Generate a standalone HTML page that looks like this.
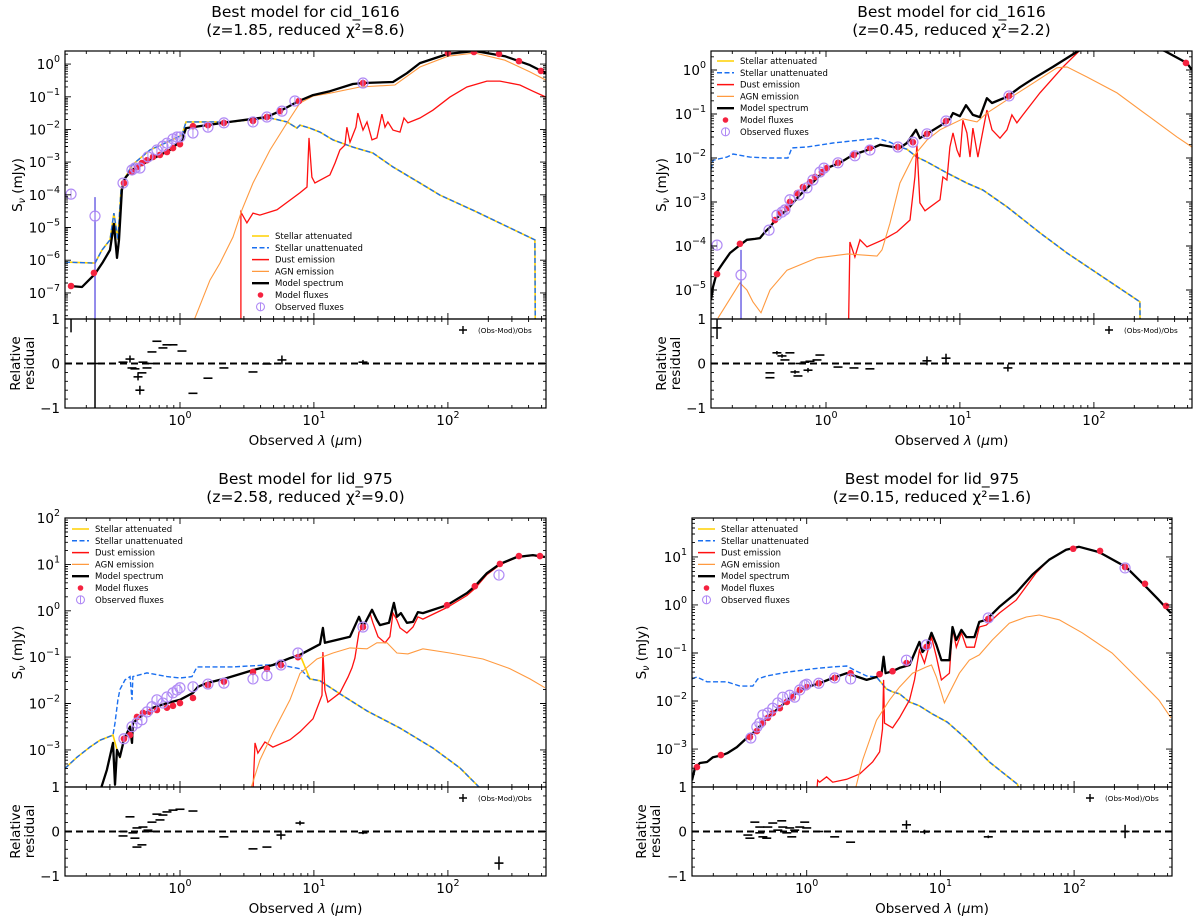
<!DOCTYPE html>
<html><head><meta charset="utf-8">
<style>
body{margin:0;background:#fff;}
svg{display:block;font-family:"DejaVu Sans","Liberation Sans",sans-serif;}
</style></head>
<body>
<svg id="fig" width="1200" height="922" viewBox="0 0 1200 922"></svg>
<script>
// ---------- DATA (log10 wavelength [um], log10 flux [mJy]) ----------
const xTickExps=[0,1,2];
const legendLabels=['Stellar attenuated','Stellar unattenuated','Dust emission','AGN emission','Model spectrum','Model fluxes','Observed fluxes'];

// Panel 1: cid_1616 z=1.85
const p1YExps=[0,-1,-2,-3,-4,-5,-6,-7];
const p1Model=[[-0.821,-6.79],[-0.731,-6.82],[-0.634,-6.42],[-0.575,-6.06],[-0.522,-5.69],[-0.493,-4.89],[-0.470,-5.93],[-0.455,-5.38],[-0.433,-3.85],[-0.410,-3.49],[-0.358,-3.24],[-0.224,-2.94],[-0.075,-2.63],[0.015,-2.32],[0.045,-1.96],[0.373,-1.77],[0.649,-1.62],[0.746,-1.44],[0.888,-1.13],[0.993,-0.95],[1.119,-0.83],[1.291,-0.61],[1.366,-0.58],[1.590,-0.55],[1.694,-0.28],[1.791,0.03],[2.0,0.31],[2.201,0.40],[2.425,0.24],[2.612,-0.03],[2.731,-0.28]];
const p1Stellar=[[-0.858,-6.06],[-0.634,-6.09],[-0.582,-5.69],[-0.522,-5.38],[-0.493,-4.56],[-0.463,-5.38],[-0.440,-3.85],[-0.410,-3.49],[-0.358,-3.09],[-0.224,-2.63],[-0.075,-2.35],[0.015,-2.17],[0.045,-1.77],[0.373,-1.77],[0.672,-1.65],[0.799,-1.77],[0.873,-1.96],[0.896,-1.87],[0.970,-1.96],[1.045,-2.08],[1.142,-2.32],[1.291,-2.54],[1.440,-2.72],[1.590,-3.15],[1.791,-3.64],[1.940,-4.01],[2.201,-4.50],[2.649,-5.38],[2.653,-9]];
const p1Dust=[[0.455,-9],[0.455,-4.53],[0.5,-4.86],[0.545,-4.56],[0.597,-4.62],[0.724,-4.46],[0.896,-3.94],[0.948,-3.76],[0.963,-2.26],[0.985,-3.46],[1.007,-3.64],[1.119,-3.39],[1.157,-3.03],[1.194,-2.63],[1.231,-2.48],[1.246,-1.93],[1.269,-2.39],[1.313,-1.93],[1.328,-1.50],[1.366,-2.02],[1.396,-1.77],[1.433,-2.32],[1.470,-2.26],[1.507,-1.53],[1.530,-1.93],[1.552,-1.77],[1.590,-2.02],[1.642,-2.08],[1.672,-1.65],[1.701,-1.80],[1.791,-1.65],[1.888,-1.41],[2.015,-1.01],[2.142,-0.70],[2.291,-0.52],[2.388,-0.52],[2.537,-0.64],[2.634,-0.83],[2.731,-1.01]];
const p1Agn=[[0.09,-8],[0.224,-6.61],[0.299,-6.09],[0.396,-5.29],[0.463,-4.46],[0.545,-3.64],[0.672,-2.63],[0.799,-1.80],[0.896,-1.19],[0.993,-0.98],[1.119,-0.89],[1.343,-0.70],[1.604,-0.64],[1.791,-0.09],[2.0,0.24],[2.201,0.34],[2.425,0.12],[2.612,-0.24],[2.731,-0.49]];
const p1Dots=[[-0.813,-6.79],[-0.642,-6.39],[-0.418,-3.64],[-0.358,-3.30],[-0.321,-3.15],[-0.284,-3.03],[-0.246,-2.94],[-0.201,-2.84],[-0.149,-2.78],[-0.097,-2.69],[-0.052,-2.57],[0,-2.45],[0.097,-1.90],[0.209,-1.87],[0.328,-1.80],[0.545,-1.74],[0.649,-1.62],[0.746,-1.44],[0.888,-1.13],[1.366,-0.58],[2.0,0.34],[2.194,0.37],[2.381,0.31],[2.530,0.09],[2.694,-0.21]];
const p1Obs=[[-0.813,-3.98],[-0.634,-4.65],[-0.425,-3.64],[-0.358,-3.24],[-0.336,-3.18],[-0.299,-3.18],[-0.239,-2.84],[-0.172,-2.63],[-0.127,-2.51],[-0.097,-2.42],[-0.052,-2.29],[-0.022,-2.23],[0,-2.23],[0.097,-2.11],[0.209,-1.93],[0.328,-1.80],[0.545,-1.77],[0.649,-1.62],[0.761,-1.44],[0.858,-1.13],[1.366,-0.58]];
const p1ObsErr=[[-0.634,-4.07,-9]];
const p1ResLam=[-0.425,-0.373,-0.358,-0.336,-0.313,-0.284,-0.246,-0.299,-0.209,-0.172,-0.127,-0.097,-0.052,0.015,-0.276,-0.201,0.209,0.097,0.328,0.545,0.649,0.761,1.366,-0.634,-0.813];
const p1ResVal=[0.03,0.10,-0.10,-0.12,-0.30,-0.21,-0.10,-0.60,0.26,0.50,0.35,0.42,0.42,0.28,0.03,0.0,-0.33,-0.67,-0.10,-0.19,-0.01,0.08,0.03,0.0,1.2];
const p1ResErr=[0,0.08,0,0,0.08,0,0,0.1,0,0,0,0,0,0,0,0,0,0,0,0,0,0.1,0.05,1.5,0.5];

// Panel 2: cid_1616 z=0.45
const p2YExps=[0,-1,-2,-3,-4,-5];
const p2Model=[[-0.858,-5.23],[-0.843,-4.93],[-0.813,-4.59],[-0.769,-4.39],[-0.716,-4.16],[-0.642,-3.98],[-0.590,-3.86],[-0.530,-3.84],[-0.493,-3.82],[-0.455,-3.68],[-0.418,-3.57],[-0.366,-3.36],[-0.291,-3.18],[-0.194,-2.84],[-0.097,-2.55],[0.007,-2.23],[0.104,-2.11],[0.201,-1.93],[0.328,-1.80],[0.403,-1.70],[0.5,-1.75],[0.552,-1.77],[0.604,-1.66],[0.672,-1.36],[0.701,-1.55],[0.754,-1.45],[0.851,-1.27],[0.925,-1.11],[0.948,-0.98],[1.0,-1.05],[1.045,-0.80],[1.097,-1.02],[1.149,-1.07],[1.201,-0.64],[1.239,-0.75],[1.351,-0.61],[1.448,-0.39],[1.545,-0.20],[1.694,0.07],[1.881,0.43],[2.194,0.8],[2.530,0.43],[2.694,0.16],[2.731,0.0]];
const p2Stellar=[[-0.858,-2.27],[-0.843,-2.05],[-0.739,-1.98],[-0.694,-1.91],[-0.567,-1.98],[-0.440,-2.0],[-0.284,-2.0],[-0.254,-1.77],[-0.142,-1.75],[0.052,-1.66],[0.381,-1.55],[0.478,-1.64],[0.552,-1.75],[0.604,-1.80],[0.679,-1.98],[0.754,-2.09],[0.903,-2.34],[1.052,-2.57],[1.172,-2.73],[1.351,-3.11],[1.597,-3.70],[1.799,-4.16],[2.343,-5.27],[2.351,-8]];
const p2Dust=[[0.157,-8],[0.179,-3.91],[0.216,-4.25],[0.254,-3.86],[0.306,-4.02],[0.425,-3.86],[0.530,-3.68],[0.627,-3.41],[0.664,-2.43],[0.679,-1.70],[0.701,-3.02],[0.739,-3.20],[0.851,-2.95],[0.873,-2.43],[0.903,-2.5],[0.925,-1.75],[0.948,-1.43],[0.978,-1.82],[1.0,-1.98],[1.022,-1.14],[1.052,-1.43],[1.075,-1.98],[1.097,-1.32],[1.134,-1.98],[1.201,-0.91],[1.239,-1.36],[1.299,-1.55],[1.351,-1.36],[1.388,-1.02],[1.425,-1.20],[1.470,-1.02],[1.597,-0.52],[1.769,0.07],[1.896,0.45],[2.04,1.1]];
const p2Agn=[[-0.806,-5.64],[-0.642,-4.84],[-0.590,-5.0],[-0.545,-5.27],[-0.485,-5.52],[-0.418,-5.0],[-0.291,-4.55],[-0.067,-4.27],[0.164,-4.18],[0.381,-4.23],[0.418,-4.09],[0.478,-3.48],[0.552,-2.57],[0.649,-1.98],[0.754,-1.59],[0.851,-1.36],[1.022,-1.11],[1.127,-1.18],[1.201,-0.98],[1.351,-0.68],[1.5,-0.39],[1.724,0.05],[1.799,0.07],[1.948,-0.16],[2.172,-0.52],[2.418,-1.07],[2.619,-1.52],[2.731,-1.75]];
const p2Dots=[[-0.813,-4.64],[-0.642,-3.95],[-0.381,-3.41],[-0.343,-3.25],[-0.291,-3.14],[-0.269,-3.0],[-0.216,-2.80],[-0.172,-2.66],[-0.119,-2.55],[-0.082,-2.43],[-0.030,-2.32],[0.007,-2.23],[0.090,-2.11],[0.209,-1.93],[0.328,-1.77],[0.537,-1.75],[0.649,-1.64],[0.754,-1.45],[0.896,-1.16],[1.366,-0.59],[2.687,0.16]];
const p2Obs=[[-0.813,-3.98],[-0.634,-4.66],[-0.425,-3.64],[-0.366,-3.30],[-0.328,-3.23],[-0.306,-3.18],[-0.269,-2.95],[-0.201,-2.84],[-0.142,-2.68],[-0.097,-2.5],[-0.045,-2.32],[-0.015,-2.23],[0.090,-2.11],[0.216,-1.95],[0.328,-1.82],[0.537,-1.75],[0.649,-1.64],[0.754,-1.45],[0.896,-1.16],[1.366,-0.59]];
const p2ObsErr=[[-0.634,-4.09,-9]];
const p2ResLam=[-0.813,-0.418,-0.418,-0.366,-0.328,-0.306,-0.269,-0.231,-0.209,-0.194,-0.157,-0.134,-0.119,-0.045,-0.067,0.090,0.209,0.328,0.754,0.896,1.358];
const p2ResVal=[0.8,-0.21,-0.32,0.24,0.17,0.08,0.24,-0.19,-0.28,0.0,0.03,-0.15,0.05,0.19,0.08,-0.08,-0.10,-0.12,0.06,0.12,-0.10];
const p2ResErr=[0.25,0,0,0.04,0.04,0,0,0.04,0,0,0,0.05,0,0,0,0,0,0,0.1,0.1,0.08];

// Panel 3: lid_975 z=2.58
const p3YExps=[2,1,0,-1,-2,-3];
const p3Model=[[-0.597,-3.9],[-0.545,-3.43],[-0.5,-2.85],[-0.485,-3.75],[-0.470,-3.0],[-0.448,-3.15],[-0.418,-2.78],[-0.373,-2.50],[-0.358,-2.85],[-0.351,-2.42],[-0.299,-2.29],[-0.201,-2.09],[-0.097,-1.99],[0,-1.92],[0.097,-1.77],[0.134,-1.64],[0.201,-1.56],[0.351,-1.45],[0.545,-1.28],[0.694,-1.17],[0.821,-1.02],[0.896,-0.95],[1.045,-0.72],[1.067,-0.37],[1.082,-0.69],[1.269,-0.56],[1.336,-0.13],[1.366,-0.35],[1.433,0.02],[1.470,-0.20],[1.493,-0.31],[1.560,-0.26],[1.597,0.17],[1.619,-0.13],[1.649,-0.05],[1.694,-0.26],[1.739,-0.24],[1.776,-0.03],[1.813,-0.05],[1.993,0.12],[2.142,0.38],[2.201,0.53],[2.291,0.81],[2.388,1.01],[2.515,1.16],[2.634,1.20],[2.724,1.16]];
const p3Stellar=[[-0.858,-3.40],[-0.769,-3.16],[-0.672,-2.94],[-0.597,-2.79],[-0.5,-2.68],[-0.485,-2.42],[-0.463,-1.92],[-0.448,-1.70],[-0.410,-1.49],[-0.373,-1.42],[-0.358,-1.92],[-0.351,-1.42],[-0.246,-1.34],[-0.097,-1.42],[0,-1.45],[0.090,-1.42],[0.127,-1.21],[0.201,-1.21],[0.396,-1.21],[0.649,-1.17],[0.746,-1.17],[0.896,-1.25],[0.970,-1.47],[1.045,-1.51],[1.194,-1.79],[1.396,-2.16],[1.642,-2.53],[1.888,-2.96],[2.090,-3.39],[2.239,-3.82]];
const p3Dust=[[0.545,-3.9],[0.560,-2.85],[0.582,-3.07],[0.634,-2.83],[0.694,-2.94],[0.821,-2.78],[0.896,-2.61],[0.993,-2.33],[1.060,-1.82],[1.067,-0.89],[1.082,-1.71],[1.104,-1.97],[1.194,-1.77],[1.254,-1.43],[1.284,-1.23],[1.306,-1.02],[1.336,-0.46],[1.366,-0.35],[1.418,-0.05],[1.440,-0.26],[1.478,-0.56],[1.530,-0.69],[1.567,-0.56],[1.590,-0.05],[1.619,-0.20],[1.642,-0.37],[1.694,-0.48],[1.739,-0.35],[1.776,-0.13],[1.813,-0.18],[1.993,0.07],[2.142,0.33],[2.201,0.48],[2.291,0.78],[2.388,0.99],[2.515,1.15],[2.634,1.19],[2.724,1.15]];
const p3Agn=[[0.522,-3.9],[0.597,-3.22],[0.694,-2.63],[0.821,-1.92],[0.896,-1.35],[1.022,-1.04],[1.142,-0.91],[1.269,-0.80],[1.396,-0.82],[1.470,-0.69],[1.545,-0.69],[1.619,-0.91],[1.701,-0.93],[1.813,-0.82],[2.015,-0.91],[2.261,-1.04],[2.463,-1.25],[2.612,-1.47],[2.724,-1.66]];
const p3Dots=[[-0.418,-2.76],[-0.373,-2.68],[-0.321,-2.29],[-0.276,-2.20],[-0.224,-2.18],[-0.172,-2.14],[-0.097,-2.09],[-0.052,-2.05],[0,-1.99],[0.097,-1.88],[0.209,-1.60],[0.328,-1.53],[0.545,-1.32],[0.649,-1.25],[0.754,-1.17],[0.881,-1.0],[1.366,-0.35],[1.993,0.12],[2.201,0.53],[2.388,1.01],[2.530,1.18],[2.687,1.18]];
const p3Obs=[[-0.418,-2.76],[-0.358,-2.50],[-0.321,-2.42],[-0.284,-2.35],[-0.246,-2.18],[-0.209,-2.07],[-0.172,-1.92],[-0.127,-1.99],[-0.097,-1.86],[-0.052,-1.77],[-0.022,-1.71],[0,-1.66],[0.097,-1.64],[0.209,-1.58],[0.328,-1.56],[0.545,-1.47],[0.649,-1.40],[0.754,-1.17],[0.881,-0.91],[1.366,-0.35],[2.381,0.77]];
const p3ObsErr=[];
const p3ResLam=[-0.373,-0.425,-0.425,-0.351,-0.336,-0.321,-0.321,-0.284,-0.276,-0.239,-0.209,-0.172,-0.149,-0.127,-0.097,-0.052,0,0.097,-0.201,0.328,0.545,0.649,0.754,0.896,1.366,2.381];
const p3ResVal=[0.33,0.0,-0.10,-0.03,-0.15,0.08,-0.35,-0.30,0.10,0.03,0.21,0.39,0.26,0.37,0.44,0.48,0.50,0.46,0.0,-0.12,-0.39,-0.35,-0.08,0.19,-0.03,-0.71];
const p3ResErr=[0,0,0,0,0,0,0,0,0,0,0,0,0,0,0,0,0,0,0,0,0,0,0.1,0.05,0.03,0.15];

// Panel 4: lid_975 z=0.15
const p4YExps=[1,0,-1,-2,-3];
const p4Model=[[-0.858,-3.65],[-0.836,-3.40],[-0.799,-3.29],[-0.746,-3.27],[-0.701,-3.17],[-0.634,-3.13],[-0.590,-3.08],[-0.522,-2.96],[-0.448,-2.77],[-0.373,-2.60],[-0.299,-2.35],[-0.201,-2.13],[-0.104,-1.88],[0,-1.71],[0.097,-1.63],[0.194,-1.52],[0.299,-1.42],[0.343,-1.46],[0.448,-1.56],[0.522,-1.50],[0.560,-1.42],[0.575,-1.08],[0.590,-1.42],[0.642,-1.38],[0.694,-1.31],[0.769,-1.25],[0.843,-0.77],[0.866,-0.98],[0.896,-0.88],[0.933,-0.58],[0.970,-0.83],[1.007,-1.15],[1.067,-1.15],[1.090,-0.46],[1.119,-0.73],[1.157,-0.52],[1.194,-0.67],[1.254,-0.67],[1.291,-0.35],[1.343,-0.31],[1.440,-0.04],[1.567,0.25],[1.687,0.63],[1.813,0.94],[1.940,1.15],[2.037,1.21],[2.187,1.10],[2.388,0.79],[2.537,0.38],[2.634,0.10],[2.724,-0.17]];
const p4Stellar=[[-0.858,-1.54],[-0.821,-1.50],[-0.746,-1.60],[-0.597,-1.60],[-0.5,-1.69],[-0.403,-1.69],[-0.366,-1.54],[-0.299,-1.48],[-0.149,-1.40],[0.045,-1.33],[0.194,-1.29],[0.299,-1.27],[0.373,-1.38],[0.448,-1.48],[0.522,-1.50],[0.597,-1.75],[0.642,-1.81],[0.694,-1.85],[0.769,-2.02],[0.843,-2.10],[0.940,-2.27],[1.052,-2.44],[1.194,-2.79],[1.366,-3.27],[1.575,-3.73],[1.6,-3.9]];
const p4Dust=[[0.075,-3.9],[0.082,-3.65],[0.097,-3.69],[0.149,-3.58],[0.194,-3.69],[0.299,-3.63],[0.396,-3.52],[0.493,-3.27],[0.545,-3.06],[0.567,-2.58],[0.575,-1.56],[0.582,-2.46],[0.642,-2.56],[0.694,-2.35],[0.769,-1.98],[0.806,-1.56],[0.843,-0.94],[0.881,-1.21],[0.933,-0.67],[0.970,-1.08],[1.007,-1.56],[1.067,-1.42],[1.090,-0.48],[1.119,-0.88],[1.157,-0.58],[1.194,-0.88],[1.254,-0.88],[1.291,-0.46],[1.343,-0.42],[1.440,-0.17],[1.567,0.10],[1.716,0.67],[1.813,0.94],[1.940,1.15],[2.037,1.21],[2.187,1.10],[2.388,0.79],[2.537,0.38],[2.634,0.10],[2.724,-0.17]];
const p4Agn=[[0.358,-3.9],[0.418,-3.23],[0.522,-2.40],[0.619,-1.98],[0.694,-1.71],[0.791,-1.42],[0.896,-1.29],[0.933,-1.25],[0.970,-1.50],[1.007,-1.83],[1.030,-2.04],[1.067,-1.83],[1.142,-1.42],[1.216,-1.15],[1.291,-1.04],[1.388,-0.73],[1.515,-0.38],[1.642,-0.25],[1.739,-0.21],[1.888,-0.31],[2.060,-0.58],[2.284,-1.0],[2.485,-1.56],[2.634,-1.98],[2.724,-2.35]];
const p4Dots=[[-0.821,-3.375],[-0.642,-3.125],[-0.425,-2.75],[-0.373,-2.625],[-0.328,-2.46],[-0.291,-2.35],[-0.254,-2.25],[-0.201,-2.15],[-0.149,-2.02],[-0.104,-1.92],[-0.052,-1.77],[0,-1.71],[0.090,-1.63],[0.209,-1.52],[0.328,-1.42],[0.545,-1.44],[0.642,-1.38],[0.746,-1.21],[0.896,-0.875],[1.358,-0.29],[1.993,1.17],[2.194,1.125],[2.381,0.79],[2.530,0.44],[2.687,-0.02]];
const p4Obs=[[-0.418,-2.77],[-0.373,-2.54],[-0.351,-2.46],[-0.328,-2.29],[-0.291,-2.25],[-0.254,-2.15],[-0.216,-2.04],[-0.179,-1.92],[-0.127,-1.88],[-0.090,-1.92],[-0.052,-1.77],[-0.015,-1.67],[0,-1.65],[0.090,-1.63],[0.209,-1.52],[0.328,-1.54],[0.746,-1.15],[0.896,-0.83],[1.358,-0.27],[2.381,0.77]];
const p4ObsErr=[];
const p4ResLam=[-0.440,-0.425,-0.388,-0.351,-0.351,-0.328,-0.299,-0.291,-0.254,-0.216,-0.187,-0.179,-0.149,-0.127,-0.112,-0.090,-0.052,-0.015,0,0.090,0.209,0.328,0.746,0.881,1.358,2.381];
const p4ResVal=[-0.08,-0.15,0.21,0.10,-0.03,-0.12,-0.15,0.10,0.19,0.03,0.24,0.10,-0.03,0.08,-0.12,0.03,0.10,0.21,0.08,0.0,-0.12,-0.24,0.15,-0.01,-0.12,0.0];
const p4ResErr=[0,0,0,0,0,0,0,0,0,0,0,0,0,0,0,0,0,0,0,0,0,0,0.1,0.05,0.03,0.15];

// attenuated stellar = model where stellar dominates, else unattenuated
const p1Yellow=p1Stellar;
const p2Yellow=p2Model.filter(p=>p[0]<=0.5).concat(p2Stellar.filter(p=>p[0]>=0.55));
const p3Yellow=p3Stellar.filter(p=>p[0]<=-0.5).concat(p3Model.filter(p=>p[0]>=-0.47&&p[0]<=0.9)).concat(p3Stellar.filter(p=>p[0]>=0.97));
const p4Yellow=p4Model.filter(p=>p[0]<=0.45).concat(p4Stellar.filter(p=>p[0]>=0.52));

// ---------- RENDER ----------
const NS='http://www.w3.org/2000/svg';
const svg=document.getElementById('fig');
function mk(tag,attrs,parent){const e=document.createElementNS(NS,tag);for(const k in attrs)e.setAttribute(k,attrs[k]);(parent||svg).appendChild(e);return e;}
const XMIN=-0.858,XMAX=2.732;
const C={yellow:'#ffd000',blue:'#1a6ff0',red:'#ff1010',orange:'#ff9a40',black:'#000',dot:'#f5223f',obs:'#b08af5',err:'#5a4fe0'};

const panels=[
 {key:'p1',L:65,R:546,T:51,M:319,B:408,ymax:0.4,ymin:-7.8,yexp:p1YExps,t1:'Best model for cid_1616',t2:'(z=1.85, reduced χ²=8.6)',model:p1Model,stellar:p1Stellar,yellow:p1Yellow,dust:p1Dust,agn:p1Agn,dots:p1Dots,obs:p1Obs,obsErr:p1ObsErr,rl:p1ResLam,rv:p1ResVal,re:p1ResErr,lx:252,ly:236,rx:463,ylab:22,rlab:20},
 {key:'p2',L:711,R:1192,T:51,M:319,B:408,ymax:0.432,ymin:-5.66,yexp:p2YExps,t1:'Best model for cid_1616',t2:'(z=0.45, reduced χ²=2.2)',model:p2Model,stellar:p2Stellar,yellow:p2Yellow,dust:p2Dust,agn:p2Agn,dots:p2Dots,obs:p2Obs,obsErr:p2ObsErr,rl:p2ResLam,rv:p2ResVal,re:p2ResErr,lx:717,ly:61,rx:1109,ylab:666,rlab:666},
 {key:'p3',L:65,R:546,T:518,M:787,B:876,ymax:2.0,ymin:-3.8,yexp:p3YExps,t1:'Best model for lid_975',t2:'(z=2.58, reduced χ²=9.0)',model:p3Model,stellar:p3Stellar,yellow:p3Yellow,dust:p3Dust,agn:p3Agn,dots:p3Dots,obs:p3Obs,obsErr:p3ObsErr,rl:p3ResLam,rv:p3ResVal,re:p3ResErr,lx:72,ly:529,rx:463,ylab:22,rlab:20},
 {key:'p4',L:692,R:1172,T:518,M:787,B:876,ymax:1.81,ymin:-3.79,yexp:p4YExps,t1:'Best model for lid_975',t2:'(z=0.15, reduced χ²=1.6)',model:p4Model,stellar:p4Stellar,yellow:p4Yellow,dust:p4Dust,agn:p4Agn,dots:p4Dots,obs:p4Obs,obsErr:p4ObsErr,rl:p4ResLam,rv:p4ResVal,re:p4ResErr,lx:698,ly:529,rx:1090,ylab:646,rlab:646}
];

panels.forEach(P=>{
 const g=mk('g',{});
 
 
 const X=v=>P.L+(v-XMIN)/(XMAX-XMIN)*(P.R-P.L);
 const Y=v=>P.T+(P.ymax-v)/(P.ymax-P.ymin)*(P.M-P.T);
 const RY=v=>P.M+(1-v)/2*(P.B-P.M);
 const cx=(P.L+P.R)/2;
 // clip paths
 const defs=mk('defs',{},g);
 const cp=mk('clipPath',{id:P.key+'clipM'},defs);
 mk('rect',{x:P.L,y:P.T,width:P.R-P.L,height:P.M-P.T},cp);
 const cp2=mk('clipPath',{id:P.key+'clipR'},defs);
 mk('rect',{x:P.L,y:P.M,width:P.R-P.L,height:P.B-P.M},cp2);
 // titles
 const t1=mk('text',{x:cx,y:P.T-34,'text-anchor':'middle','font-size':15.5},g);
 t1.textContent=P.t1;
 
 
 const t2=mk('text',{x:cx,y:P.T-16,'text-anchor':'middle','font-size':15.5},g);
 t2.textContent=P.t2;
 
 
 // series
 const mg=mk('g',{'clip-path':'url(#'+P.key+'clipM)'},g);
 const path=(pts)=>pts.map((p,i)=>(i?'L':'M')+X(p[0]).toFixed(1)+' '+Y(p[1]).toFixed(1)).join('');
 const s1=mk('path',{d:path(P.yellow),fill:'none',stroke:C.yellow,'stroke-width':1.6},mg);
 
 
 const s2=mk('path',{d:path(P.stellar),fill:'none',stroke:C.blue,'stroke-width':1.4,'stroke-dasharray':'5,2.5'},mg);
 
 
 const s3=mk('path',{d:path(P.dust),fill:'none',stroke:C.red,'stroke-width':1.3},mg);
 
 
 const s4=mk('path',{d:path(P.agn),fill:'none',stroke:C.orange,'stroke-width':1.1},mg);
 
 
 const s5=mk('path',{d:path(P.model),fill:'none',stroke:C.black,'stroke-width':2.3,'stroke-linejoin':'round'},mg);
 
 
 P.obsErr.forEach(e=>{
  const l=mk('line',{x1:X(e[0]),x2:X(e[0]),y1:Y(e[1]),y2:Y(e[2]),stroke:C.err,'stroke-width':1.3},mg);
  
  
 });
 P.dots.forEach(p=>{
  const c=mk('circle',{cx:X(p[0]),cy:Y(p[1]),r:3.3,fill:C.dot},mg);
  
  
 });
 P.obs.forEach(p=>{
  const c=mk('circle',{cx:X(p[0]),cy:Y(p[1]),r:5,fill:'none',stroke:C.obs,'stroke-width':1.2},mg);
  
  
  const l=mk('line',{x1:X(p[0]),x2:X(p[0]),y1:Y(p[1])-4,y2:Y(p[1])+4,stroke:C.obs,'stroke-width':1},mg);
  
  
 });
 // residuals
 const rg=mk('g',{'clip-path':'url(#'+P.key+'clipR)'},g);
 const z=mk('line',{x1:P.L,x2:P.R,y1:RY(0),y2:RY(0),stroke:'#000','stroke-width':2,'stroke-dasharray':'7,4'},rg);
 
 
 P.rl.forEach((lam,i)=>{
  const x=X(lam),y=RY(P.rv[i]);
  const h=mk('line',{x1:x-4.5,x2:x+4.5,y1:y,y2:y,stroke:'#000','stroke-width':1.6},rg);
  
  
  if(P.re[i]>0){
   const v=mk('line',{x1:x,x2:x,y1:RY(P.rv[i]+P.re[i]),y2:RY(P.rv[i]-P.re[i]),stroke:'#000','stroke-width':1.5},rg);
   
   
  }
 });
 // frames
 const fm=mk('rect',{x:P.L,y:P.T,width:P.R-P.L,height:P.M-P.T,fill:'none',stroke:'#000','stroke-width':1.2},g);
 
 
 const fr=mk('rect',{x:P.L,y:P.M,width:P.R-P.L,height:P.B-P.M,fill:'none',stroke:'#000','stroke-width':1.2},g);
 
 
 // ticks
 let tk='';
 for(let d=-1;d<=2;d++){for(let k=1;k<=9;k++){const v=d+Math.log10(k);if(v<XMIN||v>XMAX)continue;const x=X(v).toFixed(1);const len=k===1?6:3;
   tk+=`M${x} ${P.T}v${len}M${x} ${P.M}v${-len}M${x} ${P.M}v${len}M${x} ${P.B}v${-len}`;}}
 for(let d=Math.floor(P.ymin);d<=Math.ceil(P.ymax);d++){for(let k=1;k<=9;k++){const v=d+Math.log10(k);if(v<P.ymin||v>P.ymax)continue;const y=Y(v).toFixed(1);const len=k===1?6:3;
   tk+=`M${P.L} ${y}h${len}M${P.R} ${y}h${-len}`;}}
 for(let i=0;i<=10;i++){const v=-1+i*0.2;const y=RY(v).toFixed(1);const len=(i%5===0)?6:3;tk+=`M${P.L} ${y}h${len}M${P.R} ${y}h${-len}`;}
 const tp=mk('path',{d:tk,stroke:'#000','stroke-width':0.9,fill:'none'},g);
 
 
 // y tick labels
 P.yexp.forEach(e=>{
  const t=mk('text',{x:P.L-5,y:Y(e)+5,'text-anchor':'end','font-size':13.5},g);
  
  
  t.appendChild(document.createTextNode('10'));
  const s=mk('tspan',{'font-size':9.5,dy:-7},t);
  s.textContent=String(e).replace('-','−');
 });
 [[1,'1'],[0,'0'],[-1,'−1']].forEach(r=>{
  const t=mk('text',{x:P.L-5,y:RY(r[0])+5,'text-anchor':'end','font-size':13.5},g);
  t.textContent=r[1];
  
  
 });
 xTickExps.forEach(e=>{
  const t=mk('text',{x:X(e),y:P.B+17,'text-anchor':'middle','font-size':13.5},g);
  
  
  t.appendChild(document.createTextNode('10'));
  const s=mk('tspan',{'font-size':9.5,dy:-7},t);
  s.textContent=String(e);
 });
 // axis labels
 const xl=mk('text',{x:cx,y:P.B+37,'text-anchor':'middle','font-size':13.5},g);
 
 
 xl.innerHTML='Observed <tspan font-style="italic">λ</tspan> (<tspan font-style="italic">μ</tspan>m)';
 const yl=mk('text',{x:0,y:0,'text-anchor':'middle','font-size':13.5,transform:`translate(${P.ylab},${(P.T+P.M)/2}) rotate(-90)`},g);
 
 
 yl.innerHTML='S<tspan font-size="9.5" dy="3" font-style="italic">ν</tspan><tspan dy="-3"> (mJy)</tspan>';
 const rc=(P.M+P.B)/2;
 const r1=mk('text',{x:0,y:0,'text-anchor':'middle','font-size':13.5,transform:`translate(${P.rlab},${rc}) rotate(-90)`},g);
 r1.textContent='Relative';
 
 
 const r2=mk('text',{x:0,y:0,'text-anchor':'middle','font-size':13.5,transform:`translate(${P.rlab+14},${rc}) rotate(-90)`},g);
 r2.textContent='residual';
 
 
 // legend
 const lg=mk('g',{},g);
 
 
 legendLabels.forEach((lab,i)=>{
  const y=P.ly+i*11.8;
  const x0=P.lx,x1=P.lx+17,xm=P.lx+8.5;
  if(i===0){const l=mk('line',{x1:x0,x2:x1,y1:y,y2:y,stroke:C.yellow,'stroke-width':1.6},lg);}
  if(i===1){const l=mk('line',{x1:x0,x2:x1,y1:y,y2:y,stroke:C.blue,'stroke-width':1.5,'stroke-dasharray':'5,2.5'},lg);}
  if(i===2){const l=mk('line',{x1:x0,x2:x1,y1:y,y2:y,stroke:C.red,'stroke-width':1.5},lg);}
  if(i===3){const l=mk('line',{x1:x0,x2:x1,y1:y,y2:y,stroke:C.orange,'stroke-width':1.2},lg);}
  if(i===4){const l=mk('line',{x1:x0,x2:x1,y1:y,y2:y,stroke:'#000','stroke-width':2.3},lg);}
  if(i===5){const c=mk('circle',{cx:xm,cy:y,r:2.8,fill:C.dot},lg);}
  if(i===6){const c=mk('circle',{cx:xm,cy:y,r:4,fill:'none',stroke:C.obs,'stroke-width':1.1},lg);mk('line',{x1:xm,x2:xm,y1:y-4,y2:y+4,stroke:C.obs,'stroke-width':1},lg);}
  const t=mk('text',{x:P.lx+23,y:y+3,'font-size':8.5},lg);
  t.textContent=lab;
  
  
 });
 // residual legend
 const ry=P.M+11;
 const pl=mk('path',{d:`M${P.rx-4} ${ry}h8M${P.rx} ${ry-4}v8`,stroke:'#000','stroke-width':1.4},g);
 
 
 const rt=mk('text',{x:P.rx+15,y:ry+3,'font-size':7.2},g);
 rt.textContent='(Obs-Mod)/Obs';
 
 
});
</script>
</body></html>
